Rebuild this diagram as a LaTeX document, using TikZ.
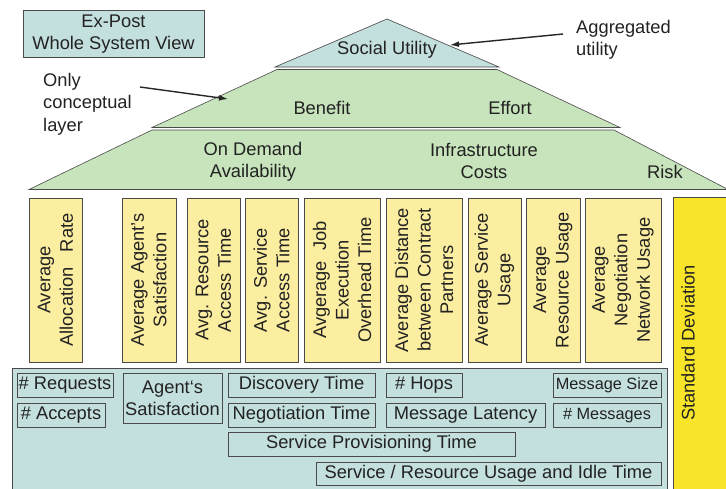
\documentclass[tikz,border=0pt]{standalone}
\usepackage{fontspec}
\setmainfont{Liberation Sans}
\usetikzlibrary{arrows.meta}
\definecolor{tealfill}{HTML}{C4E0DE}
\definecolor{greenfill}{HTML}{C8E4BC}
\definecolor{ylwfill}{HTML}{FCEEA0}
\definecolor{sdfill}{HTML}{F8E52A}
\definecolor{edgegray}{HTML}{4A4A4A}
\definecolor{txt}{HTML}{222222}
\tikzset{
  big/.style={font=\fontsize{18.3}{22.5}\selectfont, text=txt, align=center},
  layer/.style={draw=edgegray, line width=0.6pt},
  metric/.style={draw=edgegray, fill=ylwfill, line width=0.7pt, rotate=90, inner sep=0pt,
     minimum width=164pt, big},
  smallbox/.style={draw=edgegray, line width=0.7pt, inner sep=0pt, minimum height=24pt,
     text height=13pt, text depth=4pt, big},
  note/.style={-{Latex[length=9pt,width=6pt]}, line width=1.4pt, draw=black!85},
}
\begin{document}
\begin{tikzpicture}[x=1pt,y=-1pt]
\useasboundingbox (0,0) rectangle (726,488);
\clip (0,0) rectangle (726,488);
% Ex-Post box
\node[draw=edgegray, fill=tealfill, line width=0.7pt, minimum width=181pt, minimum height=47pt, inner sep=0pt, big] (expost) at (113.5,34) {Ex-Post\\Whole System View};
% layers
\draw[layer, fill=tealfill] (387,19) -- (499,67) -- (275,67) -- cycle;
\draw[layer, fill=greenfill] (277,69.5) -- (497,69.5) -- (620,127.5) -- (152,127.5) -- cycle;
\draw[layer, fill=greenfill] (152,130) -- (614,130) -- (728,189.5) -- (29,189.5) -- cycle;
\node[big] (social) at (387,50) {Social Utility};
\node[big] (benefit) at (322,108) {Benefit};
\node[big] (effort) at (510,108) {Effort};
\node[big] (ondemand) at (253,162) {On Demand\\Availability};
\node[big] (infra) at (484,161) {Infrastructure\\Costs};
\node[big] (risk) at (665,172) {Risk};
% annotations
\node[big, align=left, anchor=north west, inner sep=0pt] (only) at (43,73) {Only\\conceptual\\layer};
\coordinate (onlyend) at (228,99);
\draw[note] (140,87) -- (onlyend);
\node[big, align=left, anchor=north west, inner sep=0pt] (aggr) at (576,20) {Aggregated\\utility};
\coordinate (aggrend) at (450,45);
\draw[note] (563,34) -- (aggrend);
% metric boxes
\node[metric, minimum height=53pt] (m1) at (55.5,280) {Average\\Allocation\ \ \ Rate};
\node[metric, minimum height=54pt] (m2) at (149,280) {Average Agent’s\\Satisfaction};
\node[metric, minimum height=53pt] (m3) at (213.5,280) {Avg. Resource\\Access Time};
\node[metric, minimum height=53pt] (m4) at (271.5,280) {Avg. Service\\Access Time};
\node[metric, minimum height=76pt] (m5) at (342,280) {Avgerage\ \ Job\\Execution\\Overhead Time};
\node[metric, minimum height=76pt] (m6) at (424,280) {Average Distance\\between Contract\\Partners};
\node[metric, minimum height=53pt] (m7) at (494.5,280) {Average Service\\Usage};
\node[metric, minimum height=54pt] (m8) at (553,280) {Average\\Resource Usage};
\node[metric, minimum height=76pt] (m9) at (623,280) {Average\\Negotiation\\Network Usage};
% standard deviation
\draw[draw=edgegray, fill=sdfill, line width=0.8pt] (673,197.5) rectangle (745,500);
\node[big, rotate=90] (sd) at (688,343) {Standard Deviation};
% bottom panel
\draw[draw=edgegray, fill=tealfill, line width=1pt] (12,368) rectangle (667,500);
\node[smallbox, minimum width=96pt] (req) at (65,385) {\# Requests};
\node[smallbox, minimum width=88pt] (acc) at (61,415) {\# Accepts};
\node[draw=edgegray, line width=0.7pt, inner sep=0pt, minimum width=99pt, minimum height=50pt, big, font=\fontsize{18.3}{22}\selectfont] (agsat) at (172.5,398) {Agent‘s\\Satisfaction};
\node[smallbox, minimum width=147pt] (disc) at (301.5,385) {Discovery Time};
\node[smallbox, minimum width=147pt] (nego) at (301.5,415) {Negotiation Time};
\node[smallbox, minimum width=287pt] (prov) at (371.5,444) {Service Provisioning Time};
\node[smallbox, minimum width=345pt, minimum height=23pt] (usage) at (488.5,473.5) {Service / Resource Usage and Idle Time};
\node[smallbox, minimum width=76pt] (hops) at (424,385) {\# Hops};
\node[smallbox, minimum width=159pt] (lat) at (465.5,415) {Message Latency};
\node[smallbox, minimum width=108pt, font=\fontsize{16.3}{19}\selectfont] (msize) at (607,385) {Message Size};
\node[smallbox, minimum width=108pt, font=\fontsize{16.3}{19}\selectfont] (nmsg) at (607,415) {\# Messages};
\end{tikzpicture}
\end{document}
